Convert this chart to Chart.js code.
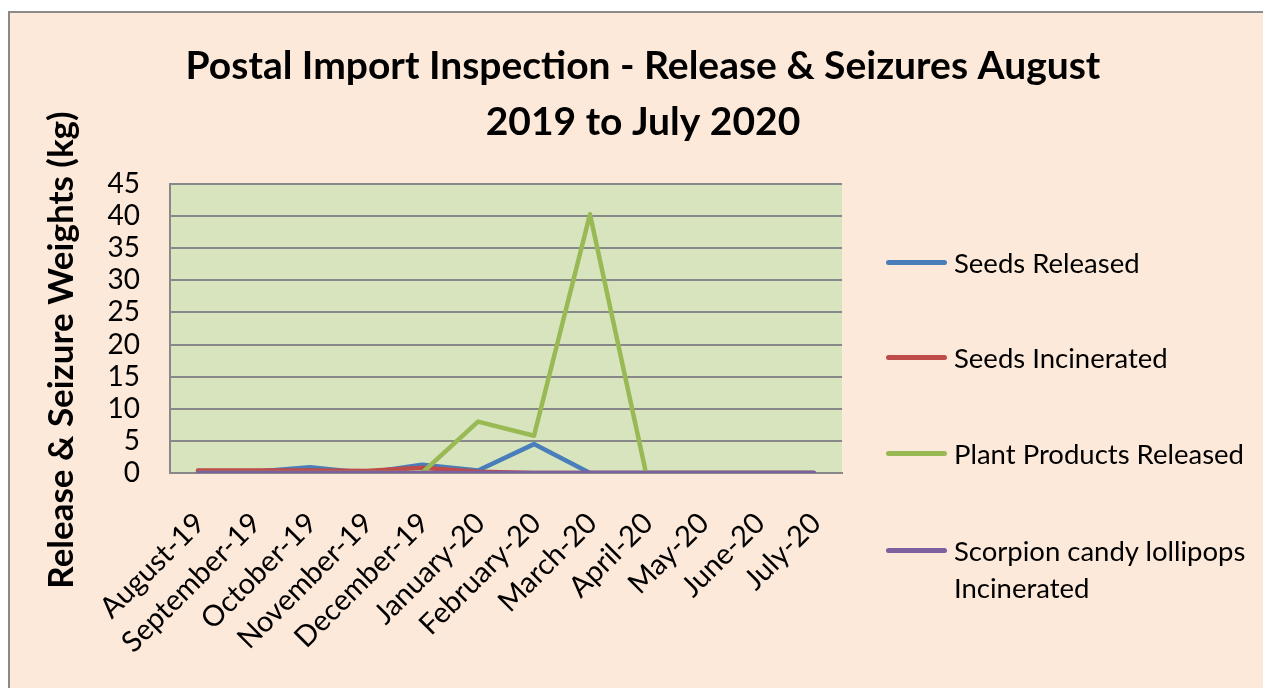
<!DOCTYPE html>
<html>
<head>
<meta charset="utf-8">
<script src="https://cdn.jsdelivr.net/npm/chart.js@4.4.1/dist/chart.umd.min.js"></script>
<style>
  html, body { margin: 0; padding: 0; background: #ffffff; }
  #wrap { position: relative; width: 1263px; height: 688px; overflow: hidden; }
  #c { position: absolute; left: 0; top: 0; }
  #legend { position: absolute; left: 0; top: 0; width: 1263px; height: 688px; pointer-events: none;
            font-family: Lato, "Open Sans", sans-serif; font-size: 27.5px; color: #000; }
  .li-line { position: absolute; height: 5px; border-radius: 3px; width: 61px; }
  .li-text { position: absolute; line-height: 37px; white-space: nowrap; }
</style>
</head>
<body>
<div id="wrap">
  <canvas id="c" width="1263" height="688"></canvas>
  <div id="legend"></div>
</div>
<script>
// ---- data ----
const months = ['August-19', 'September-19', 'October-19', 'November-19', 'December-19', 'January-20',
                'February-20', 'March-20', 'April-20', 'May-20', 'June-20', 'July-20'];
const seedsReleased    = [0.2, 0.2, 0.9, 0, 1.3, 0.4, 4.5, 0, 0, 0, 0, 0];
const seedsIncinerated = [0.4, 0.4, 0.4, 0.3, 0.8, 0.2, 0, 0, 0, 0, 0, 0];
const plantReleased    = [0, 0, 0, 0, 0, 8, 5.8, 40.3, 0, 0, 0, 0];
const scorpionIncin    = [0, 0, 0, 0, 0, 0, 0, 0, 0, 0, 0, 0];
const seriesNames = ['Seeds Released', 'Seeds Incinerated', 'Plant Products Released',
                     ['Scorpion candy lollipops', 'Incinerated']];
const yTicks = [0, 5, 10, 15, 20, 25, 30, 35, 40, 45];
const titleLines = ['Postal Import Inspection - Release & Seizures August', '2019 to July 2020'];
const yTitle = 'Release & Seizure Weights (kg)';

const colors = ['#4A7EBB', '#BE4B48', '#98B954', '#7D60A0'];
const seriesValues = [seedsReleased, seedsIncinerated, plantReleased, scorpionIncin];

// Excel draws later series on top: put them first in Chart.js (first dataset = topmost)
const datasets = [];
for (let i = seriesValues.length - 1; i >= 0; i--) {
  datasets.push({
    label: Array.isArray(seriesNames[i]) ? seriesNames[i].join(' ') : seriesNames[i],
    data: seriesValues[i],
    borderColor: colors[i],
    backgroundColor: colors[i],
    borderWidth: 4.5,
    pointRadius: 0,
    tension: 0,
    borderJoinStyle: 'round',
    borderCapStyle: 'round'
  });
}

const bgPlugin = {
  id: 'bg',
  beforeDraw(chart) {
    const ctx = chart.ctx;
    ctx.save();
    ctx.fillStyle = '#ffffff';
    ctx.fillRect(0, 0, chart.width, chart.height);
    ctx.fillStyle = '#FDE9DA';
    ctx.fillRect(9, 12, chart.width, chart.height);
    ctx.strokeStyle = '#8a8a8a';
    ctx.lineWidth = 2;
    ctx.beginPath();
    ctx.moveTo(9, chart.height + 5);
    ctx.lineTo(9, 12);
    ctx.lineTo(chart.width + 5, 12);
    ctx.stroke();
    const a = chart.chartArea;
    ctx.fillStyle = '#D7E4BD';
    ctx.fillRect(a.left, a.top, a.right - a.left, a.bottom - a.top);
    ctx.restore();
  }
};

// y-axis title drawn as rotated text, placed where the reference has it
const yTitlePlugin = {
  id: 'yTitle',
  afterDraw(chart) {
    const ctx = chart.ctx;
    ctx.save();
    ctx.translate(73, 350);
    ctx.rotate(-Math.PI / 2);
    ctx.font = 'bold 35px Lato';
    ctx.fillStyle = '#000';
    ctx.textAlign = 'center';
    ctx.textBaseline = 'alphabetic';
    ctx.fillText(yTitle, 0, 0);
    ctx.restore();
  }
};

const chart = new Chart(document.getElementById('c'), {
  type: 'line',
  data: { labels: months, datasets: datasets },
  plugins: [bgPlugin, yTitlePlugin],
  options: {
    responsive: false,
    animation: false,
    events: [],
    layout: { padding: { left: 23, right: 0, top: 38, bottom: 0 } },
    plugins: {
      legend: { display: false },
      tooltip: { enabled: false },
      title: {
        display: true,
        text: titleLines,
        color: '#000',
        font: { family: 'Lato', size: 39, weight: 'bold', lineHeight: '56px' },
        padding: { top: 0, bottom: 34 }
      }
    },
    scales: {
      x: {
        type: 'category',
        offset: true,
        z: 1,
        grid: { display: false, drawTicks: false },
        border: { display: true, color: '#888888', width: 2 },
        ticks: {
          autoSkip: false, maxRotation: 45, minRotation: 45,
          color: '#000', padding: 33, labelOffset: 2,
          font: { family: 'Lato', size: 29 }
        },
        afterFit(scale) { scale.height = 215; }
      },
      y: {
        position: 'left',
        min: 0, max: 45,
        afterBuildTicks(scale) { scale.ticks = yTicks.map(v => ({ value: v })); },
        grid: { color: '#888888', lineWidth: 2, drawTicks: false },
        border: { display: true, color: '#888888', width: 2 },
        ticks: { autoSkip: false, color: '#000', padding: 30, font: { family: 'Lato', size: 28 } },
        title: { display: false },
        afterFit(scale) { scale.width = 147; }
      },
      yR: {
        position: 'right',
        min: 0, max: 45,
        grid: { display: false, drawTicks: false },
        border: { display: false },
        ticks: { display: false },
        afterFit(scale) { scale.width = 421; }
      }
    }
  }
});

// ---- legend (HTML text), built from the series arrays ----
const legend = document.getElementById('legend');
const legendY = [262, 357, 453, 550];
seriesNames.forEach((name, i) => {
  const line = document.createElement('div');
  line.className = 'li-line';
  line.style.left = '886px';
  line.style.top = (legendY[i] - 2.5) + 'px';
  line.style.background = colors[i];
  legend.appendChild(line);
  const t = document.createElement('div');
  t.className = 'li-text';
  t.style.left = '954px';
  t.style.top = (legendY[i] - 18.5) + 'px';
  t.innerHTML = (Array.isArray(name) ? name : [name]).map(s => s.replace(/&/g, '&amp;')).join('<br>');
  legend.appendChild(t);
});
</script>
</body>
</html>
